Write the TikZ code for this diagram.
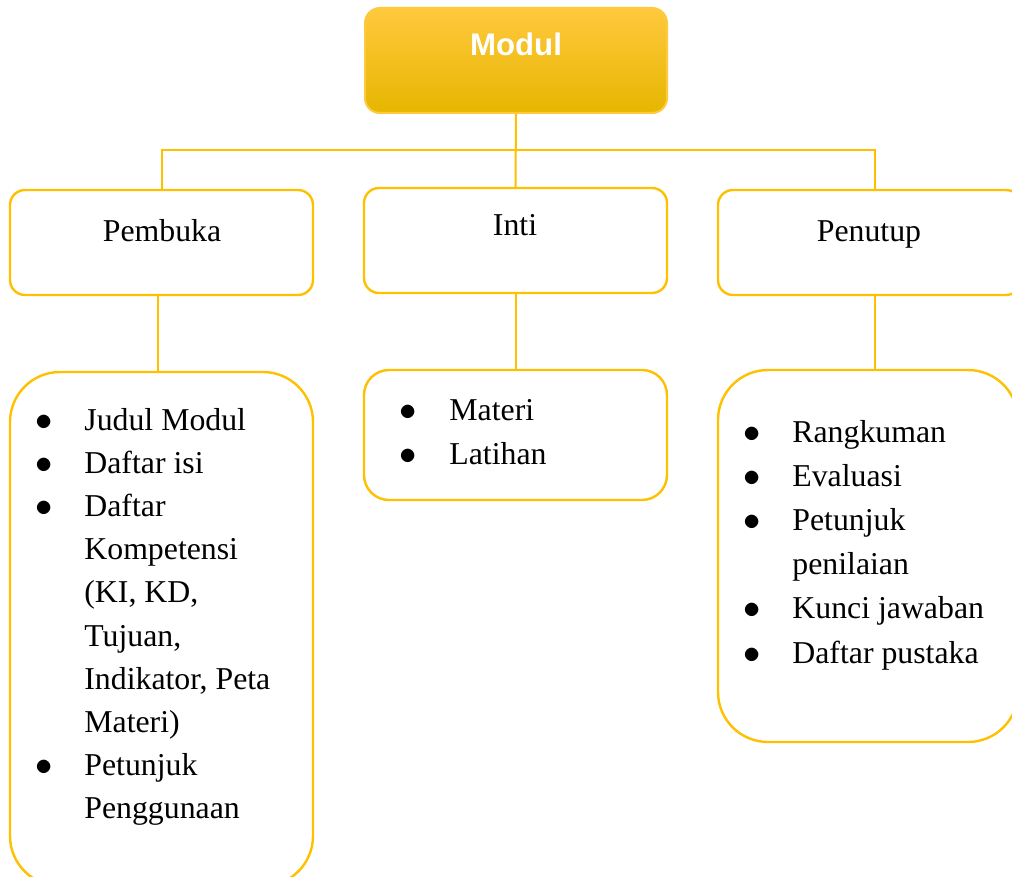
\documentclass[tikz,border=0pt]{standalone}
\usepackage{fontspec}
\setmainfont{Liberation Serif}
\setsansfont{Liberation Sans}
\usepackage{xcolor}
\usetikzlibrary{positioning}
\definecolor{gold}{HTML}{FFC000}
\definecolor{goldtop}{HTML}{FFC93E}
\definecolor{goldmid}{HTML}{FFC400}
\definecolor{goldbot}{HTML}{E6B600}
\newcommand{\blt}{$\bullet$}

\tikzset{
    headbox/.style={draw=goldtop, line width=1pt, rounded corners=7.5pt, top color=goldtop, middle color=goldmid, bottom color=goldbot, minimum width=151pt, minimum height=52.5pt, inner sep=0pt},
    topbox/.style={draw=gold, line width=1.2pt, rounded corners=7.5pt, minimum width=151.5pt, minimum height=52.5pt, inner sep=0pt},
    listbox/.style={draw=gold, line width=1.2pt, inner sep=0pt},
    conn/.style={draw=gold, line width=1pt},
    label text/.style={font=\fontsize{15.9}{21.6}\selectfont, anchor=base, inner sep=0pt},
    list text/.style={font=\fontsize{15.9}{21.6}\selectfont, anchor=base west, inner sep=0pt}
}

\begin{document}
\begin{tikzpicture}[x=0.5pt, y=-0.5pt]
            \clip (0,0) rectangle (1012,877);
            \fill[white] (0,0) rectangle (1012,877);

            % kotak utama
            \node[headbox] (modul) at (516,60.5) {};
            \node[label text, font=\sffamily\bfseries\fontsize{15.6}{18}\selectfont, text=white] (modulT) at (516,56) {Modul};

            \node[topbox] (pembuka) at (161.5,242.5) {};
            \node[topbox] (inti) at (515.5,240.5) {};
            \node[topbox] (penutup) at (869.5,242.5) {};
            \node[label text] (pembukaT) at (162,242) {Pembuka};
            \node[label text] (intiT) at (515,236) {Inti};
            \node[label text] (penutupT) at (869,242) {Penutup};

            \coordinate (bar) at (516,150);
            \draw[conn] (modul.south) -- (inti.north);
            \draw[conn] (pembuka.north) -- (pembuka.north |- bar) -- ([xshift=2.5pt]penutup.north |- bar) -- ([xshift=2.5pt]penutup.north);

            % kotak isi
            \draw[listbox, rounded corners=25pt] (10,372) rectangle (313,886);
            \coordinate (pembukaL) at (161.5,372);
            \draw[listbox, rounded corners=12.5pt] (364,370) rectangle (667,500);
            \coordinate (intiL) at (515.5,370);
            \draw[listbox, rounded corners=25pt] (718,370) rectangle (1018,742);
            \coordinate (penutupL) at (874.5,370);

            \draw[conn] ([xshift=-1.75pt]pembuka.south) -- ([xshift=-1.75pt]pembukaL);
            \draw[conn] (inti.south) -- (intiL);
            \draw[conn] ([xshift=2.5pt]penutup.south) -- (penutupL);

            \node[list text] (pembukaI) at (35,430) {\begin{tabular}[t]{@{}p{24.5pt}@{}l@{}}
                \blt & Judul Modul\\
                \blt & Daftar isi\\
                \blt & Daftar\\
                     & Kompetensi\\
                     & (KI, KD,\\
                     & Tujuan,\\
                     & Indikator, Peta\\
                     & Materi)\\
                \blt & Petunjuk\\
                     & Penggunaan
            \end{tabular}};
            \node[list text, font=\fontsize{15.9}{22.4}\selectfont] (intiI) at (399,420) {\begin{tabular}[t]{@{}p{25pt}@{}l@{}}
                \blt & Materi\\
                \blt & Latihan
            \end{tabular}};
            \node[list text, font=\fontsize{15.9}{22.1}\selectfont] (penutupI) at (743,442) {\begin{tabular}[t]{@{}p{24.5pt}@{}l@{}}
                \blt & Rangkuman\\
                \blt & Evaluasi\\
                \blt & Petunjuk\\
                     & penilaian\\
                \blt & Kunci jawaban\\
                \blt & Daftar pustaka
            \end{tabular}};
        \end{tikzpicture}
\end{document}
